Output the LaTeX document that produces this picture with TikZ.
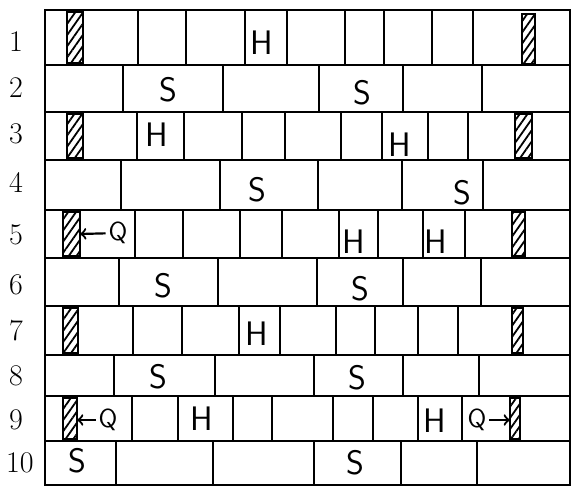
\documentclass[tikz,border=0pt]{standalone}
\usepackage{amsmath}
\usetikzlibrary{patterns.meta}

\tikzset{
  brickletter/.style={font=\sffamily\fontsize{17}{17}\selectfont},
  rowno/.style={font=\fontsize{15}{15}\selectfont},
  qlabel/.style={font=\sffamily\fontsize{13}{13}\selectfont, inner sep=1pt},
  closer/.style={draw, line width=0.9pt,
    pattern={Lines[angle=55, distance=3.2pt, line width=0.9pt]}}
}

\begin{document}
\begin{tikzpicture}[x=0.5pt, y=-0.5pt, line width=1.1pt]
    \useasboundingbox (0,0) rectangle (575,488);

    % Draw frame and bed joints
    \draw (45,10) rectangle (570,485);
    \foreach \y in {65,112,160,210,258,306,355,396,441}
        \draw (45,\y) -- (570,\y);

    % Draw perpends, row by row
    \foreach \ya/\yb/\xs in {
        10/65/{138,186,245,287,345,384,432,473},
        65/112/{123,223,319,403,482},
        112/160/{137,184,242,285,341,382,428,468},
        160/210/{121,220,318,402,483},
        210/258/{135,183,240,282,339,378,423,465},
        258/306/{119,218,317,403,481},
        306/355/{133,182,239,280,336,375,418,458},
        355/396/{114,215,314,403,479},
        396/441/{132,178,233,272,333,373,418,462},
        441/485/{116,213,314,401,477}}
        \foreach \x in \xs
            \draw (\x,\ya) -- (\x,\yb);

    % Queen closers (hatched)
    \draw[closer] (67,12) rectangle (83,63);
    \draw[closer] (522,14) rectangle (535,64);
    \draw[closer] (67,114) rectangle (83,158);
    \draw[closer] (515,114) rectangle (532,158);
    \draw[closer] (63,212) rectangle (80,256);
    \draw[closer] (512,212) rectangle (525,256);
    \draw[closer] (63,308) rectangle (78,353);
    \draw[closer] (512,308) rectangle (523,353);
    \draw[closer] (63,398) rectangle (77,439);
    \draw[closer] (510,398) rectangle (520,439);

    % Row numbers
    \node[rowno] (r1) at (16,42) {1};
    \node[rowno] (r2) at (16,88) {2};
    \node[rowno] (r3) at (16,134) {3};
    \node[rowno] (r4) at (16,182) {4};
    \node[rowno] (r5) at (16,235) {5};
    \node[rowno] (r6) at (16,285) {6};
    \node[rowno] (r7) at (16,331) {7};
    \node[rowno] (r8) at (16,376) {8};
    \node[rowno] (r9) at (16,420) {9};
    \node[rowno] (r10) at (20,463) {10};

    % Stretchers
    \node[brickletter] (s2a) at (168,90) {S};
    \node[brickletter] (s2b) at (362,93) {S};
    \node[brickletter] (s4a) at (257,190) {S};
    \node[brickletter] (s4b) at (462,193) {S};
    \node[brickletter] (s6a) at (163,286) {S};
    \node[brickletter] (s6b) at (360,289) {S};
    \node[brickletter] (s8a) at (158,377) {S};
    \node[brickletter] (s8b) at (357,378) {S};
    \node[brickletter] (s10a) at (77,461) {S};
    \node[brickletter] (s10b) at (355,463) {S};

    % Headers
    \node[brickletter] (h1) at (262,43) {H};
    \node[brickletter] (h3a) at (157,135) {H};
    \node[brickletter] (h3b) at (400,145) {H};
    \node[brickletter] (h5a) at (354,242) {H};
    \node[brickletter] (h5b) at (436,242) {H};
    \node[brickletter] (h7) at (257,334) {H};
    \node[brickletter] (h9a) at (202,419) {H};
    \node[brickletter] (h9b) at (435,421) {H};

    % Closer marks
    \coordinate (c5) at (80,234);
    \coordinate (c9l) at (77,420);
    \coordinate (c9r) at (510,420);
    \node[qlabel] (q5) at (118,233) {Q};
    \node[qlabel] (q9l) at (108,420) {Q};
    \node[qlabel] (q9r) at (477,420) {Q};
    \draw[->] (q5) -- (c5);
    \draw[->] (q9l) -- (c9l);
    \draw[->] (q9r) -- (c9r);

\end{tikzpicture}
\end{document}
